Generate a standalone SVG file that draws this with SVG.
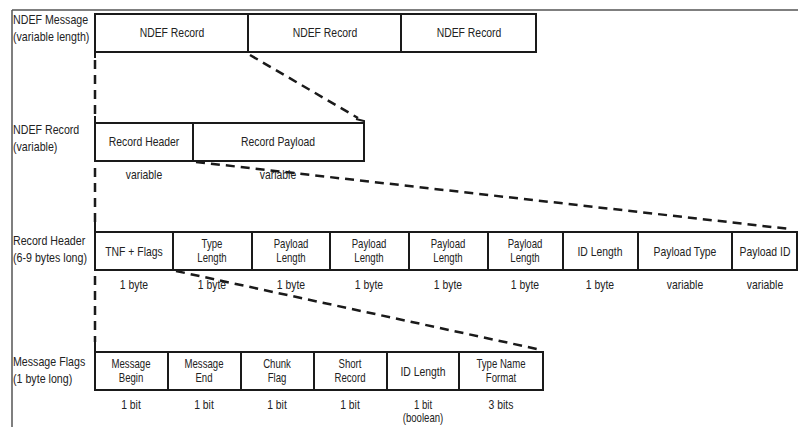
<svg xmlns="http://www.w3.org/2000/svg" width="798" height="427" viewBox="0 0 798 427">
<style>
.box{fill:#fff;stroke:#1a1a1a;stroke-width:2}
.div{stroke:#1a1a1a;stroke-width:2}
.t{font-family:"Liberation Sans",Arial,sans-serif;font-size:13px;fill:#222;text-anchor:middle}
.t2{font-family:"Liberation Sans",Arial,sans-serif;font-size:12px;fill:#222;text-anchor:middle}
.lbl{font-family:"Liberation Sans",Arial,sans-serif;font-size:13px;fill:#222}
.dash{fill:none;stroke:#1a1a1a;stroke-width:2.5;stroke-dasharray:9 6}
.solid{fill:none;stroke:#1a1a1a;stroke-width:2}
</style>
<rect width="798" height="427" fill="#fff"/>
<g id="frame">
<line x1="12" y1="10" x2="798" y2="10" stroke="#555" stroke-width="1.5"/>
<line x1="12" y1="10" x2="12" y2="427" stroke="#555" stroke-width="1.5"/>
</g>

<g id="connectors">
<line class="dash" x1="95" y1="60" x2="95" y2="114"/>
<line class="solid" x1="95" y1="52" x2="95" y2="58"/>
<line class="solid" x1="95" y1="116" x2="95" y2="123"/>
<line class="dash" x1="250" y1="55" x2="358" y2="118"/>
<path class="solid" d="M356 119 L364 121 L364 126"/>

<line class="dash" x1="95" y1="168" x2="95" y2="222"/>
<line class="solid" x1="95" y1="222" x2="95" y2="232"/>
<line class="dash" x1="196" y1="162" x2="790" y2="229"/>

<line class="dash" x1="95" y1="276" x2="95" y2="342"/>
<line class="solid" x1="95" y1="342" x2="95" y2="352"/>
<line class="dash" x1="176" y1="271" x2="537" y2="349"/>
</g>

<g id="ndef-message">
<text class="lbl" transform="translate(13 24) scale(0.82 1)">NDEF Message</text>
<text class="lbl" transform="translate(13 41) scale(0.82 1)">(variable length)</text>
<rect class="box" x="95" y="14" width="441" height="38"/>
<line class="div" x1="248" y1="14" x2="248" y2="52"/>
<line class="div" x1="401" y1="14" x2="401" y2="52"/>
<text class="t" transform="translate(172 37) scale(0.8 1)">NDEF Record</text>
<text class="t" transform="translate(325 37) scale(0.8 1)">NDEF Record</text>
<text class="t" transform="translate(469 37) scale(0.8 1)">NDEF Record</text>
</g>

<g id="ndef-record">
<text class="lbl" transform="translate(13 134) scale(0.82 1)">NDEF Record</text>
<text class="lbl" transform="translate(13 151) scale(0.82 1)">(variable)</text>
<rect class="box" x="95" y="123" width="269" height="38"/>
<line class="div" x1="193" y1="123" x2="193" y2="161"/>
<text class="t" transform="translate(144 146) scale(0.8 1)">Record Header</text>
<text class="t" transform="translate(278 146) scale(0.8 1)">Record Payload</text>
<text class="t" transform="translate(144 179) scale(0.8 1)">variable</text>
<text class="t" transform="translate(278 179) scale(0.8 1)">variable</text>
</g>

<g id="record-header">
<text class="lbl" transform="translate(13 245) scale(0.82 1)">Record Header</text>
<text class="lbl" transform="translate(13 262) scale(0.82 1)">(6-9 bytes long)</text>
<rect class="box" x="95" y="232" width="702" height="38"/>
<line class="div" x1="173" y1="232" x2="173" y2="270"/>
<line class="div" x1="252" y1="232" x2="252" y2="270"/>
<line class="div" x1="330" y1="232" x2="330" y2="270"/>
<line class="div" x1="409" y1="232" x2="409" y2="270"/>
<line class="div" x1="488" y1="232" x2="488" y2="270"/>
<line class="div" x1="563" y1="232" x2="563" y2="270"/>
<line class="div" x1="638" y1="232" x2="638" y2="270"/>
<line class="div" x1="732" y1="232" x2="732" y2="270"/>
<text class="t" transform="translate(134 256) scale(0.8 1)">TNF + Flags</text>
<text class="t2" transform="translate(212 248) scale(0.8 1)">Type</text>
<text class="t2" transform="translate(212 262) scale(0.8 1)">Length</text>
<text class="t2" transform="translate(291 248) scale(0.8 1)">Payload</text>
<text class="t2" transform="translate(291 262) scale(0.8 1)">Length</text>
<text class="t2" transform="translate(369 248) scale(0.8 1)">Payload</text>
<text class="t2" transform="translate(369 262) scale(0.8 1)">Length</text>
<text class="t2" transform="translate(448 248) scale(0.8 1)">Payload</text>
<text class="t2" transform="translate(448 262) scale(0.8 1)">Length</text>
<text class="t2" transform="translate(525 248) scale(0.8 1)">Payload</text>
<text class="t2" transform="translate(525 262) scale(0.8 1)">Length</text>
<text class="t" transform="translate(600 256) scale(0.8 1)">ID Length</text>
<text class="t" transform="translate(685 256) scale(0.8 1)">Payload Type</text>
<text class="t" transform="translate(765 256) scale(0.8 1)">Payload ID</text>
<text class="t" transform="translate(134 289) scale(0.8 1)">1 byte</text>
<text class="t" transform="translate(212 289) scale(0.8 1)">1 byte</text>
<text class="t" transform="translate(291 289) scale(0.8 1)">1 byte</text>
<text class="t" transform="translate(369 289) scale(0.8 1)">1 byte</text>
<text class="t" transform="translate(448 289) scale(0.8 1)">1 byte</text>
<text class="t" transform="translate(525 289) scale(0.8 1)">1 byte</text>
<text class="t" transform="translate(600 289) scale(0.8 1)">1 byte</text>
<text class="t" transform="translate(685 289) scale(0.8 1)">variable</text>
<text class="t" transform="translate(765 289) scale(0.8 1)">variable</text>
</g>

<g id="message-flags">
<text class="lbl" transform="translate(13 366) scale(0.82 1)">Message Flags</text>
<text class="lbl" transform="translate(13 383) scale(0.82 1)">(1 byte long)</text>
<rect class="box" x="95" y="352" width="448" height="38"/>
<line class="div" x1="168" y1="352" x2="168" y2="390"/>
<line class="div" x1="241" y1="352" x2="241" y2="390"/>
<line class="div" x1="314" y1="352" x2="314" y2="390"/>
<line class="div" x1="387" y1="352" x2="387" y2="390"/>
<line class="div" x1="459" y1="352" x2="459" y2="390"/>
<text class="t2" transform="translate(131 368) scale(0.8 1)">Message</text>
<text class="t2" transform="translate(131 382) scale(0.8 1)">Begin</text>
<text class="t2" transform="translate(204 368) scale(0.8 1)">Message</text>
<text class="t2" transform="translate(204 382) scale(0.8 1)">End</text>
<text class="t2" transform="translate(277 368) scale(0.8 1)">Chunk</text>
<text class="t2" transform="translate(277 382) scale(0.8 1)">Flag</text>
<text class="t2" transform="translate(350 368) scale(0.8 1)">Short</text>
<text class="t2" transform="translate(350 382) scale(0.8 1)">Record</text>
<text class="t" transform="translate(423 376) scale(0.8 1)">ID Length</text>
<text class="t2" transform="translate(501 368) scale(0.8 1)">Type Name</text>
<text class="t2" transform="translate(501 382) scale(0.8 1)">Format</text>
<text class="t" transform="translate(131 409) scale(0.8 1)">1 bit</text>
<text class="t" transform="translate(204 409) scale(0.8 1)">1 bit</text>
<text class="t" transform="translate(277 409) scale(0.8 1)">1 bit</text>
<text class="t" transform="translate(350 409) scale(0.8 1)">1 bit</text>
<text class="t2" transform="translate(423 409) scale(0.8 1)">1 bit</text>
<text class="t2" transform="translate(423 422) scale(0.8 1)">(boolean)</text>
<text class="t" transform="translate(501 409) scale(0.8 1)">3 bits</text>
</g>
</svg>
